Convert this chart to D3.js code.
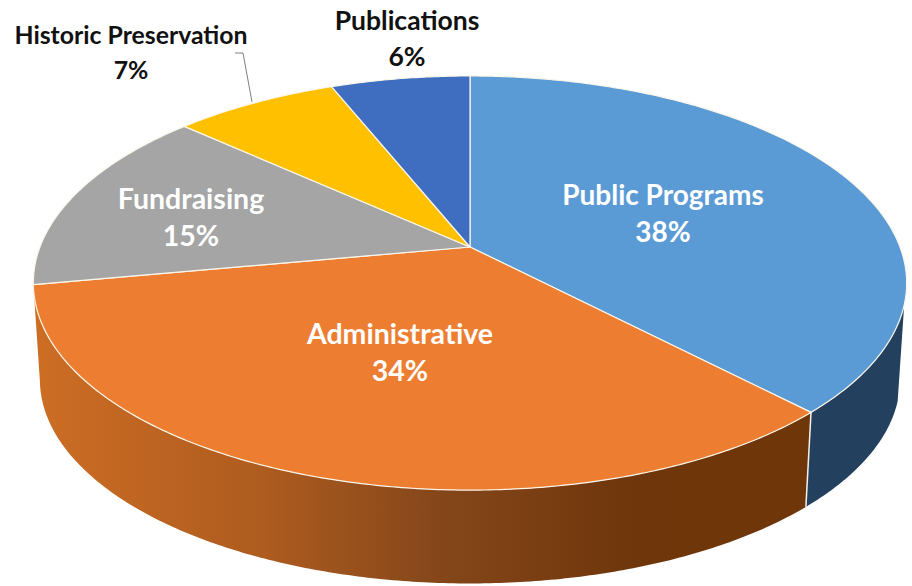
<!DOCTYPE html>
<html lang="en">
<head>
    <meta charset="UTF-8">
    <title>Budget by category</title>
    <script src="https://d3js.org/d3.v7.min.js"></script>
    <style>
        html, body { margin: 0; padding: 0; background: white; }
        svg { display: block; }
        .label { font-family: Lato, sans-serif; font-weight: 700; text-anchor: middle; }
    </style>
</head>
<body>
    <div id="chart"></div>

    <script>
        const categories = ["Public Programs", "Administrative", "Fundraising", "Historic Preservation", "Publications"];
        // shares read from the slice edges, labels show them rounded
        const percents = [37.8, 34.3, 14.6, 7.2, 6.1];

        const colors = ["#5b9bd5", "#ed7d31", "#a5a5a5", "#ffc000", "#3f6ec0"];
        const labelColors = ["#fff", "#fff", "#fff", "#111", "#111"];

        const width = 912;
        const height = 586;

        // pie plane seen in perspective, apex is the middle of the pie
        const cx = 470, cy = 247;
        const rx = 430, ry = 200.8, persp = 0.174;
        // bottom face of the slab
        const depthY = 97, bottomScale = 0.985;

        const svg = d3.select("#chart").append("svg")
            .attr("width", width)
            .attr("height", height);

        function project(angle, scale, dy) {
            const u = Math.sin(angle), v = Math.cos(angle);
            const w = 1 + persp * v;
            return [cx + scale * rx * u / w, cy + dy - scale * ry * v / w];
        }
        const topPoint = a => project(a, 1, 0);
        const bottomPoint = a => project(a, bottomScale, depthY);

        function samples(a0, a1) {
            const n = Math.max(2, Math.ceil(Math.abs(a1 - a0) / 0.01));
            return d3.range(n + 1).map(i => a0 + (a1 - a0) * i / n);
        }

        const pie = d3.pie().sort(null).value(d => d);
        const arcs = pie(percents);
        const line = d3.line();

        const defs = svg.append("defs");

        const orangeGrad = defs.append("linearGradient")
            .attr("id", "sideOrange")
            .attr("gradientUnits", "userSpaceOnUse")
            .attr("x1", 40).attr("y1", 0).attr("x2", 800).attr("y2", 0);
        orangeGrad.append("stop").attr("offset", "0%").attr("stop-color", "#cc6d24");
        orangeGrad.append("stop").attr("offset", "30%").attr("stop-color", "#ad5b1f");
        orangeGrad.append("stop").attr("offset", "52%").attr("stop-color", "#85471a");
        orangeGrad.append("stop").attr("offset", "78%").attr("stop-color", "#6f360b");
        orangeGrad.append("stop").attr("offset", "100%").attr("stop-color", "#6f3609");

        // only the front of the slab shows: blue and orange slices
        const sideStart = 106 * Math.PI / 180;
        const sideFill = ["#23415f", "url(#sideOrange)"];

        [0, 1].forEach(i => {
            const angles = samples(Math.max(arcs[i].startAngle, sideStart), arcs[i].endAngle);
            const pts = angles.map(topPoint).concat(angles.slice().reverse().map(bottomPoint));
            svg.append("path")
                .attr("d", line(pts) + "Z")
                .attr("fill", sideFill[i]);
        });

        // seam between the two side faces
        const seam = arcs[0].endAngle;
        svg.append("path")
            .attr("d", line([topPoint(seam), bottomPoint(seam)]))
            .attr("stroke", "#f4f1ea")
            .attr("stroke-width", 1.5)
            .attr("fill", "none");

        // top face
        svg.selectAll(".slice")
            .data(arcs)
            .enter().append("path")
            .attr("class", "slice")
            .attr("d", d => line([[cx, cy]].concat(samples(d.startAngle, d.endAngle).map(topPoint))) + "Z")
            .attr("fill", (d, i) => colors[i])
            .attr("stroke", "#fbf6ea")
            .attr("stroke-width", 1.2)
            .attr("stroke-linejoin", "round");

        // leader line for Historic Preservation
        svg.append("path")
            .attr("d", "M235,53H243L252,102")
            .attr("fill", "none")
            .attr("stroke", "#7f7f7f")
            .attr("stroke-width", 1);

        // label placement: [center x, name baseline, percent baseline, font size]
        const labelPlacement = [
            [663, 205, 242, 28],
            [400, 344, 381, 28.5],
            [191, 209, 246, 28.5],
            [131, 44, 79, 24.8],
            [407, 30, 66, 26.5]
        ];

        const labels = svg.selectAll(".label")
            .data(categories)
            .enter().append("text")
            .attr("class", "label")
            .attr("fill", (d, i) => labelColors[i])
            .style("font-size", (d, i) => labelPlacement[i][3] + "px");

        labels.append("tspan")
            .attr("x", (d, i) => labelPlacement[i][0])
            .attr("y", (d, i) => labelPlacement[i][1])
            .text(d => d);

        labels.append("tspan")
            .attr("x", (d, i) => labelPlacement[i][0])
            .attr("y", (d, i) => labelPlacement[i][2])
            .text((d, i) => Math.round(percents[i]) + "%");
    </script>
</body>
</html>
